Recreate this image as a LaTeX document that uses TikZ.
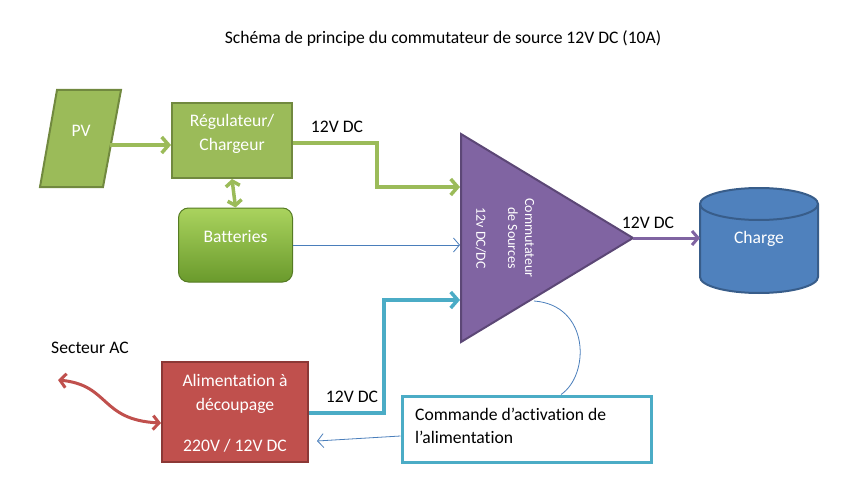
\documentclass[tikz,border=0pt]{standalone}
\usepackage{fontspec}
\setmainfont{Carlito}[Ligatures=NoCommon]
\usetikzlibrary{arrows.meta,shapes.geometric,calc}
\definecolor{og}{HTML}{9BBB59}
\definecolor{ogd}{HTML}{71893F}
\definecolor{opu}{HTML}{8064A2}
\definecolor{opud}{HTML}{5C4776}
\definecolor{obl}{HTML}{4F81BD}
\definecolor{obld}{HTML}{385D8A}
\definecolor{ore}{HTML}{C0504D}
\definecolor{ored}{HTML}{8C3836}
\definecolor{ocy}{HTML}{4BACC6}
\definecolor{othin}{HTML}{4A7EBB}
\definecolor{battop}{HTML}{AAD35E}
\definecolor{batbot}{HTML}{6A9A2C}
\tikzset{
  txt/.style={font=\fontsize{17.6}{21}\selectfont, inner sep=0pt},
  wtxt/.style={txt, text=white},
  thick arr/.style={line width=3.5pt, -{Straight Barb[length=7pt,width=16pt,line width=3.5pt]}},
  thin arr/.style={line width=0.8pt, draw=othin, -{Straight Barb[length=6pt,width=14pt,line width=0.8pt]}},
}
\begin{document}
\begin{tikzpicture}[x=1pt,y=-1pt]
\useasboundingbox (0,0) rectangle (846,484);
% title
\node[txt] (title) at (443,38) {Schéma de principe du commutateur de source 12V DC (10A)};
% PV
\draw[fill=og, draw=ogd, line width=2pt] (57,90) -- (121,90) -- (103,187) -- (40,187) -- cycle;
\coordinate (pvE) at (110,145);
\node[wtxt] (pv) at (81,131) {PV};
% Regulateur
\node[draw=ogd, fill=og, line width=2pt, minimum width=120pt, minimum height=75pt, inner sep=0pt] (reg) at (232,140.5) {};
\node[wtxt, align=center, font=\fontsize{17.6}{24}\selectfont] at (232,134) {Régulateur/\\Chargeur};
% Batteries
\node[draw=batbot!80!black, top color=battop, bottom color=batbot, line width=1pt, rounded corners=10pt, minimum width=114pt, minimum height=74pt, inner sep=0pt] (bat) at (235.5,245) {};
\node[wtxt] at (235.5,237) {Batteries};
% Triangle
\draw[fill=opu, draw=opud, line width=2pt] (461,134) -- (633,238) -- (461,342) -- cycle;
\coordinate (triA) at (633,238);
\coordinate (triIn1) at (460,187);
\coordinate (triIn2) at (460,245);
\coordinate (triIn3) at (460,300);
\coordinate (triC) at (534,301);
\node[wtxt, rotate=-90, align=center, font=\fontsize{14}{17}\selectfont] (com) at (521,238) {Commutateur\\de Sources};
\node[wtxt, rotate=-90, font=\fontsize{14}{17}\selectfont] (dcdc) at (481,238) {12v DC/DC};
% Charge cylinder
\draw[fill=obl, draw=obld, line width=2pt] (700,204) -- (700,277) arc[start angle=180, end angle=360, x radius=59pt, y radius=16pt] -- (818,204) arc[start angle=0, end angle=180, x radius=59pt, y radius=16pt] -- cycle;
\draw[draw=obld, line width=2pt] (700,204) arc[start angle=180, end angle=360, x radius=59pt, y radius=16pt];
\coordinate (chW) at (700,238);
\node[wtxt] (charge) at (759,239) {Charge};
% Alimentation
\node[draw=ored, fill=ore, line width=2pt, minimum width=146pt, minimum height=100pt, inner sep=0pt] (alim) at (235,412) {};
\node[wtxt] at (235,380) {Alimentation à};
\node[wtxt] at (235,406) {découpage};
\node[wtxt] at (235,446) {220V / 12V DC};
% Commande
\node[draw=ocy, fill=white, line width=3pt, minimum width=249pt, minimum height=66pt, inner sep=0pt] (cmd) at (526.5,429) {};
\node[txt, align=left, anchor=west, font=\fontsize{17.6}{23}\selectfont] at (415,426) {Commande d’activation de\\l’alimentation};
% labels
\node[txt] (l1) at (337,127) {12V DC};
\node[txt] (l2) at (648,223) {12V DC};
\node[txt] (l3) at (352,397) {12V DC};
\node[txt] (sect) at (90,348) {Secteur AC};
% connectors
\draw[thick arr, draw=og] (pvE) -- (reg.west |- pvE);
\draw[line width=3.5pt, draw=og, {Straight Barb[length=5pt,width=14pt,line width=3.5pt]}-{Straight Barb[length=5pt,width=14pt,line width=3.5pt]}] (reg.south) -- (bat.north);
\draw[thick arr, draw=og] (reg.east |- 0,143) -- (377,143) -- (377,187) -- (triIn1);
\draw[thin arr] (bat.east |- triIn2) -- (triIn2);
\draw[line width=3pt, draw=opu, -{Straight Barb[length=6pt,width=14pt,line width=3pt]}] (triA) -- (chW);
\draw[thick arr, draw=ocy] (alim.east |- 0,413) -- (384,413) -- (384,300) -- (triIn3);
\draw[line width=0.8pt, draw=othin] (triC) .. controls (590,305) and (590,375) .. (cmd.north -| 561,0);
\draw[thin arr] (cmd.west |- 0,436) -- (317,441);
\draw[line width=3pt, draw=ore, {Straight Barb[length=6pt,width=14pt,line width=3pt]}-{Straight Barb[length=6pt,width=14pt,line width=3pt]}] (58,380) .. controls (110,385) and (100,420) .. (alim.west |- 0,423);
\end{tikzpicture}
\end{document}
